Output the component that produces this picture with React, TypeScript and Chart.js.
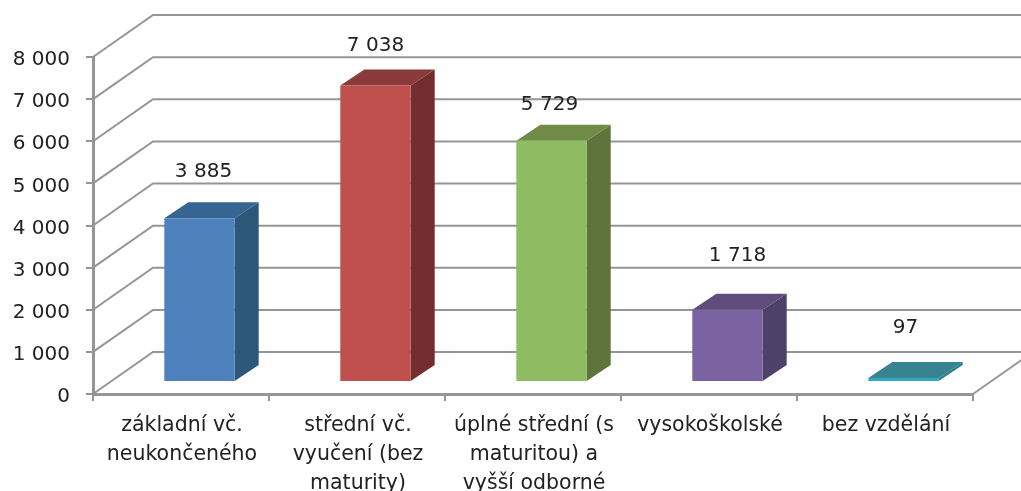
import React, { useEffect, useRef } from "react";
import { Chart, registerables } from "chart.js";

Chart.register(...registerables);

const categories: string[][] = [
  ["základní vč.", "neukončeného"],
  ["střední vč.", "vyučení (bez", "maturity)"],
  ["úplné střední (s", "maturitou) a", "vyšší odborné"],
  ["vysokoškolské"],
  ["bez vzdělání"],
];
const values = [3885, 7038, 5729, 1718, 97];
const frontColors = ["#4f81bd", "#c0504d", "#8fbc62", "#7b62a0", "#31a9c4"];
const topColors = ["#376591", "#8a3a3b", "#6f8b47", "#5f4b7c", "#37838f"];
const sideColors = ["#2c5778", "#722d2f", "#5f743b", "#4d4069", "#2f7e90"];
const labelNudgeX = [4, 0, -2, 10, 2];
const labelNudgeY = [47, 40, 36, 54, 50];

const WALL_DX = 60;
const WALL_DY = -42;
const BAR_DX = 18.5;
const BAR_DY = -12;
const DEPTH_DX = 24;
const DEPTH_DY = -16;
const GRID = "#959595";
const FONT = "DejaVu Sans";

const fmt = (n: number) => String(n).replace(/\B(?=(\d{3})+$)/g, " ");

const poly = (ctx: CanvasRenderingContext2D, pts: number[][], fill: string) => {
  ctx.beginPath();
  pts.forEach(([x, y], i) => (i ? ctx.lineTo(x, y) : ctx.moveTo(x, y)));
  ctx.closePath();
  ctx.fillStyle = fill;
  ctx.fill();
};

const threeD = {
  id: "threeD",
  beforeDatasetsDraw(chart: any) {
    const { ctx, chartArea, scales } = chart;
    ctx.save();
    ctx.strokeStyle = GRID;
    ctx.lineWidth = 2;
    for (const t of scales.y.ticks) {
      const y = scales.y.getPixelForValue(t.value);
      ctx.beginPath();
      ctx.moveTo(chartArea.left, y);
      ctx.lineTo(chartArea.left + WALL_DX, y + WALL_DY);
      ctx.lineTo(chartArea.right + WALL_DX, y + WALL_DY);
      ctx.stroke();
    }
    const y0 = scales.y.getPixelForValue(0);
    ctx.beginPath();
    ctx.moveTo(chartArea.right, y0);
    ctx.lineTo(chartArea.right + WALL_DX, y0 + WALL_DY);
    ctx.stroke();
    chart.getDatasetMeta(0).data.forEach((bar: any, i: number) => {
      const l = bar.x - bar.width / 2 + BAR_DX;
      const r = bar.x + bar.width / 2 + BAR_DX;
      const t = bar.y + BAR_DY;
      const b = bar.base + BAR_DY;
      poly(ctx, [[r, t], [r + DEPTH_DX, t + DEPTH_DY], [r + DEPTH_DX, b + DEPTH_DY], [r, b]], sideColors[i]);
      poly(ctx, [[l, t], [l + DEPTH_DX, t + DEPTH_DY], [r + DEPTH_DX, t + DEPTH_DY], [r, t]], topColors[i]);
    });
    ctx.restore();
    ctx.save();
    ctx.translate(BAR_DX, BAR_DY);
  },
  afterDatasetsDraw(chart: any) {
    const { ctx } = chart;
    ctx.restore();
    ctx.save();
    ctx.font = `20px "${FONT}"`;
    ctx.fillStyle = "#222222";
    ctx.textAlign = "center";
    ctx.textBaseline = "middle";
    chart.getDatasetMeta(0).data.forEach((bar: any, i: number) => {
      ctx.fillText(fmt(values[i]), bar.x + BAR_DX + labelNudgeX[i], bar.y + BAR_DY - labelNudgeY[i]);
    });
    ctx.restore();
  },
};

export default function App() {
  const ref = useRef<HTMLCanvasElement>(null);
  useEffect(() => {
    const chart = new Chart(ref.current!, {
      type: "bar",
      data: {
        labels: categories,
        datasets: [
          {
            data: values,
            backgroundColor: frontColors,
            borderWidth: 0,
            categoryPercentage: 1,
            barPercentage: 0.4,
            clip: false,
          } as any,
        ],
      },
      plugins: [threeD],
      options: {
        responsive: false,
        animation: false,
        layout: { padding: { top: 57, right: 48, left: 0, bottom: 0 } },
        plugins: { legend: { display: false }, tooltip: { enabled: false } },
        scales: {
          x: {
            offset: true,
            grid: { offset: true, drawOnChartArea: false, color: GRID, lineWidth: 2, tickLength: 7 },
            border: { color: GRID, width: 3 },
            ticks: {
              maxRotation: 0,
              autoSkip: false,
              color: "#222222",
              padding: 10,
              labelOffset: 1,
              font: { family: FONT, size: 20.5, lineHeight: 1.42 },
            },
            afterFit(s: any) {
              s.height = 97;
            },
          },
          y: {
            min: 0,
            max: 8000,
            grid: { drawOnChartArea: false, color: GRID, lineWidth: 2, tickLength: 7 },
            border: { color: GRID, width: 3 },
            ticks: {
              stepSize: 1000,
              color: "#222222",
              padding: 16,
              labelOffset: 3,
              font: { family: FONT, size: 20 },
              callback: (v: any) => fmt(Number(v)),
            },
            afterFit(s: any) {
              s.width = 93;
            },
          },
        },
      },
    });
    return () => chart.destroy();
  }, []);
  return (
    <div style={{ position: "fixed", left: 0, top: 0, width: 1021, height: 491, background: "#fff" }}>
      <canvas ref={ref} width={1021} height={491} style={{ display: "block", filter: "blur(0.5px)" }} />
    </div>
  );
}
